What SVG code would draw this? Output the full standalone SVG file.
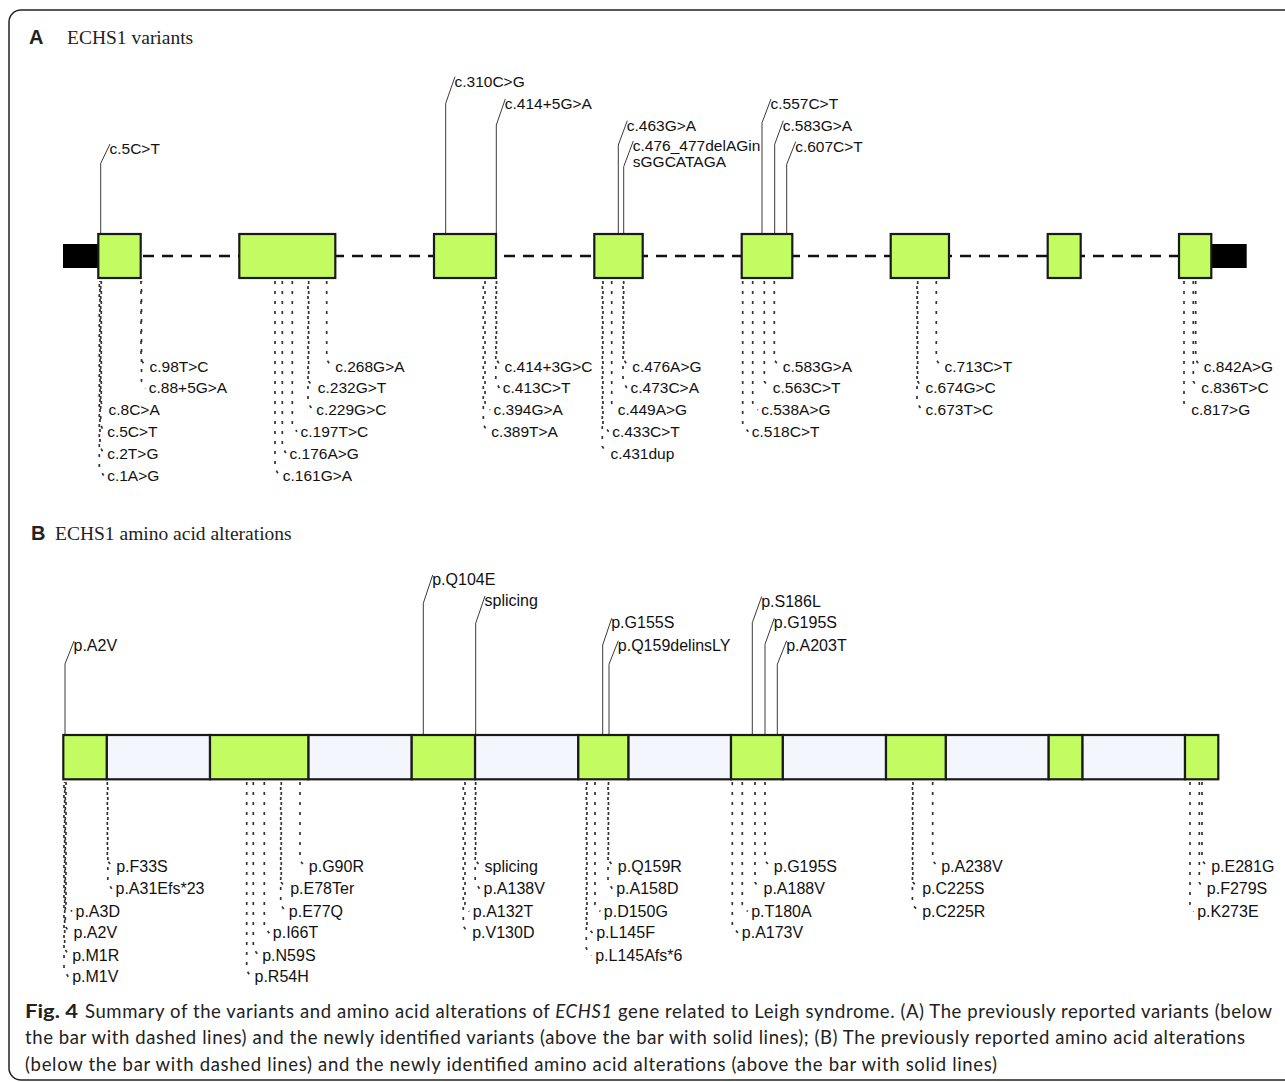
<svg xmlns="http://www.w3.org/2000/svg" width="1285" height="1082" viewBox="0 0 1285 1082">
<style>
.lbl{font-family:"Liberation Sans",Arial,sans-serif;font-size:15.5px;fill:#111}
.lb{font-family:"Liberation Sans",Arial,sans-serif;font-size:16px;fill:#111}
.solid{fill:none;stroke:#3a3a3a;stroke-width:1}
.dot{fill:none;stroke:#333;stroke-width:1.7;stroke-dasharray:3 7}
.exon{fill:#c2fc60;stroke:#1a1a1a;stroke-width:2.2}
.light{fill:#f4f6fe;stroke:#1a1a1a;stroke-width:2.2}
.utr{fill:#000}
.intron{stroke:#111;stroke-width:2.4;stroke-dasharray:11 8;fill:none}
.ttlb{font-family:"Liberation Sans",Arial,sans-serif;font-weight:bold;font-size:20px;fill:#222}
.ttl{font-family:"Liberation Serif","Times New Roman",serif;font-size:19.5px;fill:#222}
.cap{font-family:Lato,"Open Sans",sans-serif;font-size:18.5px;fill:#222}
</style>
<rect id="frame" x="9" y="10" width="1300" height="1070" rx="12" ry="12" fill="#fff" stroke="#222" stroke-width="1.5"/>

<g id="titleA"><text class="ttlb" x="29" y="44">A</text><text class="ttl" x="67" y="44.3">ECHS1 variants</text></g>
<g id="titleB"><text class="ttlb" x="31" y="540">B</text><text class="ttl" x="55" y="540">ECHS1 amino acid alterations</text></g>

<g id="connectors">
<line class="intron" x1="143" y1="256" x2="1179" y2="256"/>
<!-- A top solid -->
<path class="solid" d="M100.7 234V163.3L110 144"/>
<path class="solid" d="M445.7 234V103.3L455 76.7"/>
<path class="solid" d="M496.3 234V125L505.3 99"/>
<path class="solid" d="M618.3 234V145L627.3 120.7"/>
<path class="solid" d="M623.7 234V166.7L633.3 141"/>
<path class="solid" d="M762 234V122.7L771 99"/>
<path class="solid" d="M774.7 234V144.3L783.3 120.7"/>
<path class="solid" d="M786.7 234V164.3L795.7 141.7"/>
<!-- A bottom dotted -->
<path class="dot" d="M141 281V359.7L146 366.7"/>
<path class="dot" d="M141.5 281V381.3L145.3 388.3" style="stroke-dashoffset:2"/>
<path class="dot" d="M101.3 281V403L105 410"/>
<path class="dot" d="M100.7 281V424.7L103.7 431.7" style="stroke-dashoffset:5"/>
<path class="dot" d="M100 281V446.5L103.7 453.5" style="stroke-dashoffset:2"/>
<path class="dot" d="M99.3 281V468.5L103.7 475.5" style="stroke-dashoffset:7"/>
<path class="dot" d="M326.7 281V359.7L331.7 366.7"/>
<path class="dot" d="M308.7 281V381.3L314.3 388.3"/>
<path class="dot" d="M308 281V403L312.7 410" style="stroke-dashoffset:5"/>
<path class="dot" d="M292.3 281V424.7L297 431.7"/>
<path class="dot" d="M282.3 281V446.5L286 453.5"/>
<path class="dot" d="M275 281V468.5L279.3 475.5"/>
<path class="dot" d="M496.5 281V359.7L501 366.7"/>
<path class="dot" d="M495.8 281V381.3L499.3 388.3" style="stroke-dashoffset:5"/>
<path class="dot" d="M485 281V403L490 410"/>
<path class="dot" d="M483.3 281V424.7L487.7 431.7" style="stroke-dashoffset:5"/>
<path class="dot" d="M623.7 281V359.7L628.7 366.7"/>
<path class="dot" d="M623 281V381.3L627 388.3" style="stroke-dashoffset:5"/>
<path class="dot" d="M611.7 281V403L614.3 410"/>
<path class="dot" d="M603 281V424.7L608.7 431.7"/>
<path class="dot" d="M602.3 281V446.5L607 453.5" style="stroke-dashoffset:5"/>
<path class="dot" d="M774.3 281V359.7L779.3 366.7"/>
<path class="dot" d="M764.3 281V381.3L769.3 388.3"/>
<path class="dot" d="M752.7 281V403L757.7 410"/>
<path class="dot" d="M742.7 281V424.7L748.3 431.7"/>
<path class="dot" d="M936.3 281V359.7L941 366.7"/>
<path class="dot" d="M917.7 281V381.3L922 388.3"/>
<path class="dot" d="M917 281V403L922 410" style="stroke-dashoffset:5"/>
<path class="dot" d="M1195.7 281V359.7L1200.3 366.7"/>
<path class="dot" d="M1193.3 281V381.3L1197.7 388.3"/>
<path class="dot" d="M1184 281V403L1187.7 410"/>
<!-- B top solid -->
<path class="solid" d="M65 735V664L74 641"/>
<path class="solid" d="M423.3 735V603.3L432.7 575"/>
<path class="solid" d="M475.7 735V623.3L485 596"/>
<path class="solid" d="M602.7 735V645L611.7 618.3"/>
<path class="solid" d="M609 735V664.3L618.3 640.7"/>
<path class="solid" d="M752.3 735V622.7L761.7 596.5"/>
<path class="solid" d="M765 735V644.3L774.3 618.3"/>
<path class="solid" d="M777.3 735V664.3L786.7 640.7"/>
<!-- B bottom dotted -->
<path class="dot" d="M107.3 782V860.3L112.7 867.3"/>
<path class="dot" d="M107.8 782V882.3L112 889.3" style="stroke-dashoffset:5"/>
<path class="dot" d="M66 782V904.5L72 911.5"/>
<path class="dot" d="M65.3 782V926.3L70 933.3" style="stroke-dashoffset:5"/>
<path class="dot" d="M64.7 782V948.5L68.7 955.5" style="stroke-dashoffset:2"/>
<path class="dot" d="M64 782V970.3L68.7 977.3" style="stroke-dashoffset:7"/>
<path class="dot" d="M300 782V860.3L305.3 867.3"/>
<path class="dot" d="M281.3 782V882.3L286.7 889.3"/>
<path class="dot" d="M280.7 782V904.5L285.3 911.5" style="stroke-dashoffset:5"/>
<path class="dot" d="M264.3 782V926.3L269.3 933.3"/>
<path class="dot" d="M253.3 782V948.5L258.7 955.5"/>
<path class="dot" d="M246.7 782V970.3L251 977.3"/>
<path class="dot" d="M475.7 782V860.3L481 867.3"/>
<path class="dot" d="M475.2 782V882.3L480 889.3" style="stroke-dashoffset:5"/>
<path class="dot" d="M465 782V904.5L469.3 911.5"/>
<path class="dot" d="M463.3 782V926.3L468.7 933.3" style="stroke-dashoffset:5"/>
<path class="dot" d="M608.5 782V860.3L614.3 867.3"/>
<path class="dot" d="M608 782V882.3L612.7 889.3" style="stroke-dashoffset:5"/>
<path class="dot" d="M595 782V904.5L600.3 911.5"/>
<path class="dot" d="M587 782V926.3L592.7 933.3"/>
<path class="dot" d="M586.3 782V948.5L591.7 955.5" style="stroke-dashoffset:5"/>
<path class="dot" d="M765 782V860.3L770.3 867.3"/>
<path class="dot" d="M755 782V882.3L760 889.3"/>
<path class="dot" d="M742.3 782V904.5L747.7 911.5"/>
<path class="dot" d="M732.3 782V926.3L738.3 933.3"/>
<path class="dot" d="M932.7 782V860.3L937.7 867.3"/>
<path class="dot" d="M913 782V882.3L918.7 889.3"/>
<path class="dot" d="M912.4 782V904.5L918.7 911.5" style="stroke-dashoffset:5"/>
<path class="dot" d="M1202 782V860.3L1207.7 867.3"/>
<path class="dot" d="M1199.3 782V882.3L1203.3 889.3"/>
<path class="dot" d="M1190 782V904.5L1193.7 911.5"/>
</g>

<g id="geneA">
<rect id="utr5" class="utr" x="63" y="244" width="35.3" height="24"/>
<rect id="utr3" class="utr" x="1211.3" y="244" width="35.4" height="24"/>
<g id="exonA1"><rect class="exon" x="98.3" y="234" width="42.4" height="44"/></g>
<g id="exonA2"><rect class="exon" x="239.3" y="234" width="96" height="44"/></g>
<g id="exonA3"><rect class="exon" x="434" y="234" width="62" height="44"/></g>
<g id="exonA4"><rect class="exon" x="594.3" y="234" width="48.4" height="44"/></g>
<g id="exonA5"><rect class="exon" x="741.7" y="234" width="50.6" height="44"/></g>
<g id="exonA6"><rect class="exon" x="890.7" y="234" width="58.3" height="44"/></g>
<g id="exonA7"><rect class="exon" x="1047.7" y="234" width="33" height="44"/></g>
<g id="exonA8"><rect class="exon" x="1179" y="234" width="32.3" height="44"/></g>
</g>

<g id="proteinB">
<g id="segB2"><rect class="light" x="106.7" y="735" width="103.3" height="44.3"/></g>
<g id="segB4"><rect class="light" x="308.3" y="735" width="103.4" height="44.3"/></g>
<g id="segB6"><rect class="light" x="475" y="735" width="103.3" height="44.3"/></g>
<g id="segB8"><rect class="light" x="628.3" y="735" width="102.7" height="44.3"/></g>
<g id="segB10"><rect class="light" x="782.7" y="735" width="103.3" height="44.3"/></g>
<g id="segB12"><rect class="light" x="945.7" y="735" width="103" height="44.3"/></g>
<g id="segB14"><rect class="light" x="1082.3" y="735" width="102.7" height="44.3"/></g>
<g id="segB1"><rect class="exon" x="63.3" y="735" width="43.4" height="44.3"/></g>
<g id="segB3"><rect class="exon" x="210" y="735" width="98.3" height="44.3"/></g>
<g id="segB5"><rect class="exon" x="411.7" y="735" width="63.3" height="44.3"/></g>
<g id="segB7"><rect class="exon" x="578.3" y="735" width="50" height="44.3"/></g>
<g id="segB9"><rect class="exon" x="731" y="735" width="51.7" height="44.3"/></g>
<g id="segB11"><rect class="exon" x="886" y="735" width="59.7" height="44.3"/></g>
<g id="segB13"><rect class="exon" x="1048.7" y="735" width="33.6" height="44.3"/></g>
<g id="segB15"><rect class="exon" x="1185" y="735" width="33.3" height="44.3"/></g>
</g>

<g id="labelsA" class="lbl">
<text x="109.5" y="154">c.5C&gt;T</text>
<text x="454.5" y="86.7">c.310C&gt;G</text>
<text x="504.8" y="109">c.414+5G&gt;A</text>
<text x="626.8" y="130.7">c.463G&gt;A</text>
<text x="632.8" y="151">c.476_477delAGin</text>
<text x="632.8" y="167.3">sGGCATAGA</text>
<text x="770.5" y="109">c.557C&gt;T</text>
<text x="782.8" y="130.7">c.583G&gt;A</text>
<text x="795.2" y="151.7">c.607C&gt;T</text>

<text x="149.5" y="371.7">c.98T&gt;C</text>
<text x="148.8" y="393.3">c.88+5G&gt;A</text>
<text x="108.5" y="415">c.8C&gt;A</text>
<text x="107.2" y="436.7">c.5C&gt;T</text>
<text x="107.2" y="458.5">c.2T&gt;G</text>
<text x="107.2" y="480.5">c.1A&gt;G</text>
<text x="335.2" y="371.7">c.268G&gt;A</text>
<text x="317.8" y="393.3">c.232G&gt;T</text>
<text x="316.2" y="415">c.229G&gt;C</text>
<text x="300.5" y="436.7">c.197T&gt;C</text>
<text x="289.5" y="458.5">c.176A&gt;G</text>
<text x="282.8" y="480.5">c.161G&gt;A</text>
<text x="504.5" y="371.7">c.414+3G&gt;C</text>
<text x="502.8" y="393.3">c.413C&gt;T</text>
<text x="493.5" y="415">c.394G&gt;A</text>
<text x="491.2" y="436.7">c.389T&gt;A</text>
<text x="632.2" y="371.7">c.476A&gt;G</text>
<text x="630.5" y="393.3">c.473C&gt;A</text>
<text x="617.8" y="415">c.449A&gt;G</text>
<text x="612.2" y="436.7">c.433C&gt;T</text>
<text x="610.5" y="458.5">c.431dup</text>
<text x="782.8" y="371.7">c.583G&gt;A</text>
<text x="772.8" y="393.3">c.563C&gt;T</text>
<text x="761.2" y="415">c.538A&gt;G</text>
<text x="751.8" y="436.7">c.518C&gt;T</text>
<text x="944.5" y="371.7">c.713C&gt;T</text>
<text x="925.5" y="393.3">c.674G&gt;C</text>
<text x="925.5" y="415">c.673T&gt;C</text>
<text x="1203.8" y="371.7">c.842A&gt;G</text>
<text x="1201.2" y="393.3">c.836T&gt;C</text>
<text x="1191.2" y="415">c.817&gt;G</text>
</g>

<g id="labelsB" class="lb">
<text x="73.5" y="651">p.A2V</text>
<text x="432.2" y="585">p.Q104E</text>
<text x="484.5" y="606">splicing</text>
<text x="611.2" y="628.3">p.G155S</text>
<text x="617.8" y="650.7">p.Q159delinsLY</text>
<text x="761.2" y="606.5">p.S186L</text>
<text x="773.8" y="628.3">p.G195S</text>
<text x="786.2" y="650.7">p.A203T</text>

<text x="116.2" y="872.3">p.F33S</text>
<text x="115.5" y="894.3">p.A31Efs*23</text>
<text x="75.5" y="916.5">p.A3D</text>
<text x="73.5" y="938.3">p.A2V</text>
<text x="72.2" y="960.5">p.M1R</text>
<text x="72.2" y="982.3">p.M1V</text>
<text x="308.8" y="872.3">p.G90R</text>
<text x="290.2" y="894.3">p.E78Ter</text>
<text x="288.8" y="916.5">p.E77Q</text>
<text x="272.8" y="938.3">p.I66T</text>
<text x="262.2" y="960.5">p.N59S</text>
<text x="254.5" y="982.3">p.R54H</text>
<text x="484.5" y="872.3">splicing</text>
<text x="483.5" y="894.3">p.A138V</text>
<text x="472.8" y="916.5">p.A132T</text>
<text x="472.2" y="938.3">p.V130D</text>
<text x="617.8" y="872.3">p.Q159R</text>
<text x="616.2" y="894.3">p.A158D</text>
<text x="603.8" y="916.5">p.D150G</text>
<text x="596.2" y="938.3">p.L145F</text>
<text x="595.2" y="960.5">p.L145Afs*6</text>
<text x="773.8" y="872.3">p.G195S</text>
<text x="763.5" y="894.3">p.A188V</text>
<text x="751.2" y="916.5">p.T180A</text>
<text x="741.8" y="938.3">p.A173V</text>
<text x="941.2" y="872.3">p.A238V</text>
<text x="922.2" y="894.3">p.C225S</text>
<text x="922.2" y="916.5">p.C225R</text>
<text x="1211.2" y="872.3">p.E281G</text>
<text x="1206.8" y="894.3">p.F279S</text>
<text x="1197.2" y="916.5">p.K273E</text>
</g>

<g id="caption" class="cap">
<text x="25" y="1018" font-weight="bold" textLength="53" lengthAdjust="spacingAndGlyphs">Fig. 4</text>
<text x="85" y="1018" textLength="1187" lengthAdjust="spacing">Summary of the variants and amino acid alterations of <tspan font-style="italic">ECHS1</tspan> gene related to Leigh syndrome. (A) The previously reported variants (below</text>
<text x="25" y="1044" textLength="1220" lengthAdjust="spacing">the bar with dashed lines) and the newly identified variants (above the bar with solid lines); (B) The previously reported amino acid alterations</text>
<text x="25" y="1070.5" textLength="972" lengthAdjust="spacing">(below the bar with dashed lines) and the newly identified amino acid alterations (above the bar with solid lines)</text>
</g>
</svg>
